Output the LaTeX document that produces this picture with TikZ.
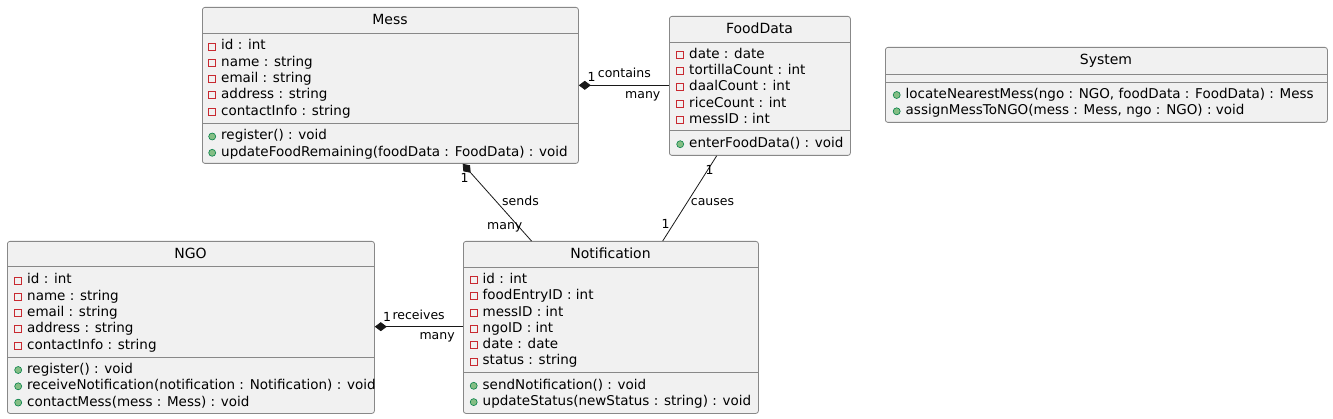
\documentclass[tikz,border=0pt]{standalone}
\usepackage{fontspec}
\setmainfont{DejaVu Sans}
\usepackage{tikz}
\usetikzlibrary{arrows.meta, positioning}
\definecolor{classfill}{RGB}{241, 241, 241}
\definecolor{classline}{RGB}{136, 136, 136}
\definecolor{linkcolor}{RGB}{24, 24, 24}
\definecolor{privred}{RGB}{200, 41, 48}
\definecolor{pubgreen}{RGB}{132, 190, 132}
\definecolor{pubdark}{RGB}{3, 128, 72}

\begin{document}
\begin{tikzpicture}[
    x=1pt, y=-1pt,
    umlclass/.style={draw=classline, fill=classfill, rounded corners=2.5pt, anchor=north west, inner sep=0pt, line width=0.8pt},
    classname/.style={anchor=base, inner sep=0pt, font=\fontsize{14}{16}\selectfont},
    sepline/.style={draw=classline, line width=0.8pt},
    member/.style={anchor=base west, inner sep=0pt, text height=10pt, text depth=3pt, font=\fontsize{13.5}{16}\selectfont},
    field/.style={member, label={[draw=privred, line width=0.8pt, minimum size=7pt, inner sep=0pt, label distance=5pt]left:{}}},
    method/.style={member, label={[circle, draw=pubdark, fill=pubgreen, line width=0.6pt, minimum size=7pt, inner sep=0pt, label distance=5pt]left:{}}},
    link/.style={draw=linkcolor, line width=0.8pt},
    comp/.style={link, {Diamond[length=12pt, width=9pt]}-},
    role/.style={anchor=base west, inner sep=0pt, font=\fontsize{12.5}{14}\selectfont}
]
    \useasboundingbox (0, 0) rectangle (1333, 419);

    % Class boxes
    \node[umlclass, minimum width=376pt, minimum height=156pt] (mess) at (202, 7) {};
    \node[umlclass, minimum width=181pt, minimum height=139pt] (food) at (669, 16) {};
    \node[umlclass, minimum width=442pt, minimum height=75pt] (system) at (885, 47) {};
    \node[umlclass, minimum width=367pt, minimum height=172pt] (ngo) at (7, 241) {};
    \node[umlclass, minimum width=295pt, minimum height=172pt] (notif) at (463, 241) {};

    % Class names
    \node[classname] (messName) at (390, 25) {Mess};
    \node[classname] (foodName) at (759.5, 34) {FoodData};
    \node[classname] (systemName) at (1106, 65) {System};
    \node[classname] (ngoName) at (190.5, 259) {NGO};
    \node[classname] (notifName) at (610.5, 259) {Notification};

    % Separators
    \draw[sepline] (mess.west |- 0, 33) -- (mess.east |- 0, 33);
    \draw[sepline] (mess.west |- 0, 123) -- (mess.east |- 0, 123);
    \draw[sepline] (food.west |- 0, 42) -- (food.east |- 0, 42);
    \draw[sepline] (food.west |- 0, 130.5) -- (food.east |- 0, 130.5);
    \draw[sepline] (system.west |- 0, 74) -- (system.east |- 0, 74);
    \draw[sepline] (system.west |- 0, 82) -- (system.east |- 0, 82);
    \draw[sepline] (ngo.west |- 0, 266) -- (ngo.east |- 0, 266);
    \draw[sepline] (ngo.west |- 0, 357) -- (ngo.east |- 0, 357);
    \draw[sepline] (notif.west |- 0, 267) -- (notif.east |- 0, 267);
    \draw[sepline] (notif.west |- 0, 372) -- (notif.east |- 0, 372);

    % Mess members
    \node[field] (messId) at (221, 50) {id : int};
    \node[field] (messNm) at (221, 66.3) {name : string};
    \node[field] (messMail) at (221, 82.6) {email : string};
    \node[field] (messAddr) at (221, 98.9) {address : string};
    \node[field] (messInfo) at (221, 115.2) {contactInfo : string};
    \node[method] (messReg) at (221, 140) {register() : void};
    \node[method] (messUpd) at (221, 156.3) {updateFoodRemaining(foodData : FoodData) : void};

    % FoodData members
    \node[field] (foodDate) at (689, 58.3) {date : date};
    \node[field] (foodTort) at (689, 74.6) {tortillaCount : int};
    \node[field] (foodDaal) at (689, 90.9) {daalCount : int};
    \node[field] (foodRice) at (689, 107.2) {riceCount : int};
    \node[field] (foodMess) at (689, 123.5) {messID : int};
    \node[method] (foodEnter) at (689, 147.7) {enterFoodData() : void};

    % System members
    \node[method] (sysLocate) at (905.5, 98.5) {locateNearestMess(ngo : NGO, foodData : FoodData) : Mess};
    \node[method] (sysAssign) at (905.5, 114.8) {assignMessToNGO(mess : Mess, ngo : NGO) : void};

    % NGO members
    \node[field] (ngoId) at (27, 284) {id : int};
    \node[field] (ngoNm) at (27, 300.3) {name : string};
    \node[field] (ngoMail) at (27, 316.6) {email : string};
    \node[field] (ngoAddr) at (27, 332.9) {address : string};
    \node[field] (ngoInfo) at (27, 349.2) {contactInfo : string};
    \node[method] (ngoReg) at (27, 373.5) {register() : void};
    \node[method] (ngoRecv) at (27, 389.8) {receiveNotification(notification : Notification) : void};
    \node[method] (ngoCont) at (27, 406.1) {contactMess(mess : Mess) : void};

    % Notification members
    \node[field] (notifId) at (482.5, 283.5) {id : int};
    \node[field] (notifFood) at (482.5, 299.8) {foodEntryID : int};
    \node[field] (notifMess) at (482.5, 316.1) {messID : int};
    \node[field] (notifNgo) at (482.5, 332.4) {ngoID : int};
    \node[field] (notifDate) at (482.5, 348.7) {date : date};
    \node[field] (notifStat) at (482.5, 365) {status : string};
    \node[method] (notifSend) at (482.5, 389.3) {sendNotification() : void};
    \node[method] (notifUpd) at (482.5, 405.6) {updateStatus(newStatus : string) : void};

    % Associations
    \draw[comp] (mess.east |- 0, 85.3) -- (food.west |- 0, 85.3);
    \draw[comp] (mess.south -| 462.7, 0) -- (notif.north -| 531.5, 0);
    \draw[link] (food.south -| 716.7, 0) -- (notif.north -| 662.7, 0);
    \draw[comp] (ngo.east |- 0, 326.7) -- (notif.west |- 0, 326.7);

    % Multiplicities and roles
    \node[role] (mfOne) at (587.5, 82) {1};
    \node[role] (mfLabel) at (597.7, 78) {contains};
    \node[role] (mfMany) at (625, 98.3) {many};
    \node[role] (mnOne) at (460.5, 182.7) {1};
    \node[role] (mnLabel) at (502, 205.7) {sends};
    \node[role] (mnMany) at (487, 229.3) {many};
    \node[role] (fnOne) at (705.5, 175) {1};
    \node[role] (fnLabel) at (690.7, 205.7) {causes};
    \node[role] (fnOneB) at (661.5, 228.7) {1};
    \node[role] (nnOne) at (383, 321.7) {1};
    \node[role] (nnLabel) at (392.3, 320) {receives};
    \node[role] (nnMany) at (419.3, 339.3) {many};

\end{tikzpicture}
\end{document}
